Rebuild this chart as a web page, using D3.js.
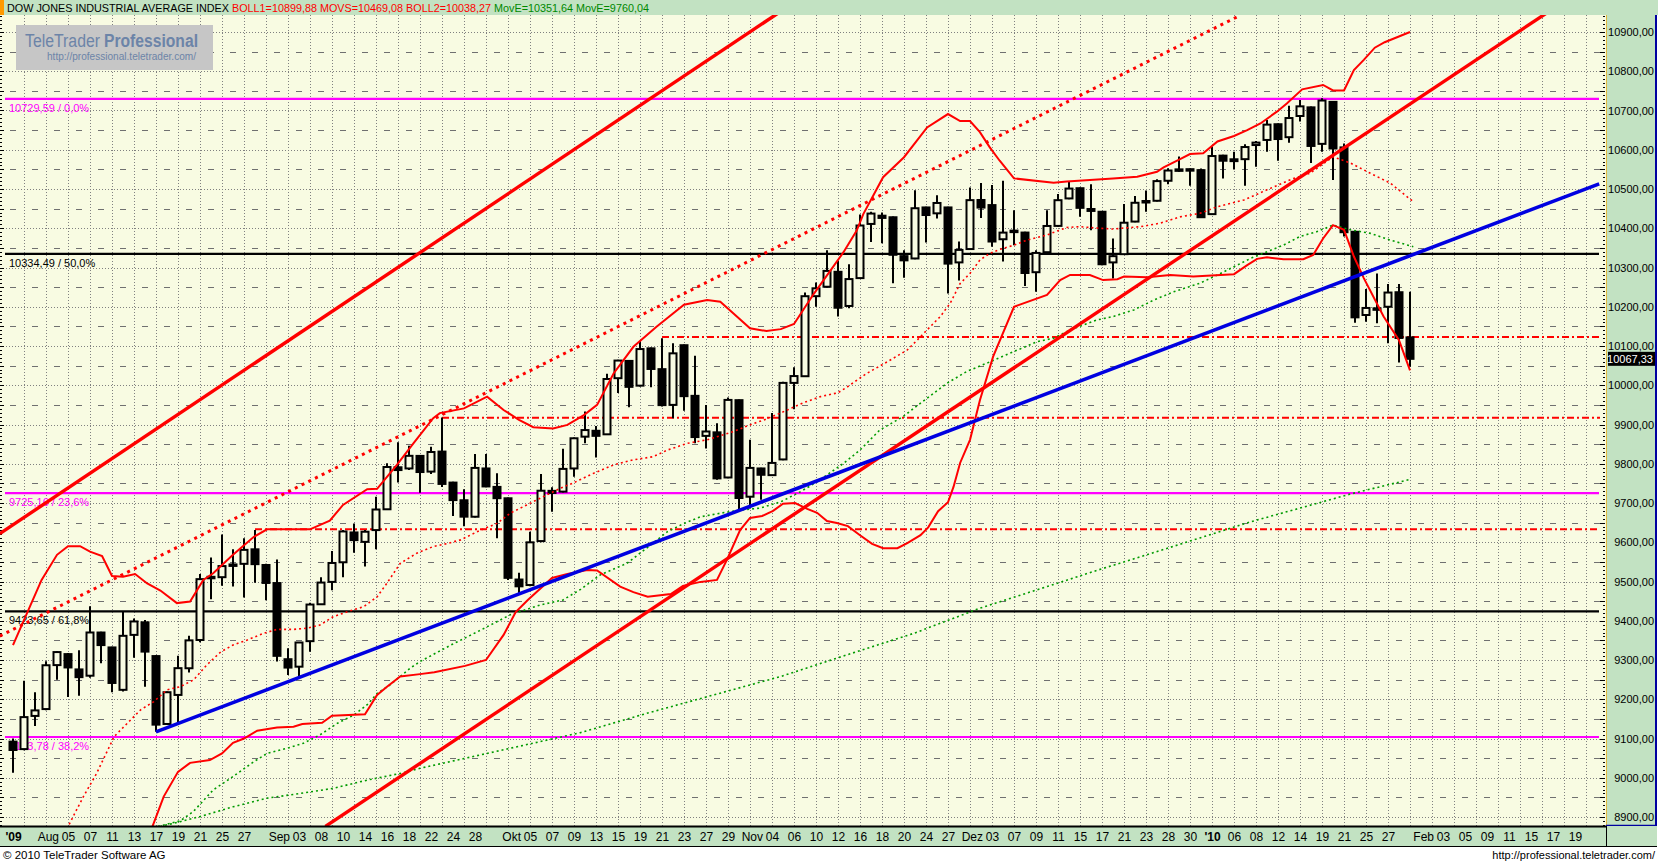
<!DOCTYPE html>
<html><head><meta charset="utf-8">
<script src="https://cdn.jsdelivr.net/npm/d3@7"></script>
<style>
html,body{margin:0;padding:0;background:#fff;}
svg{display:block;font-family:"Liberation Sans",Arial,sans-serif;}
</style></head><body>
<svg id="c" width="1658" height="864"></svg>
<script>
// ---------------- DATA ----------------
const title = "DOW JONES INDUSTRIAL AVERAGE INDEX";
const indicatorTexts = ["BOLL1=10899,88","MOVS=10469,08","BOLL2=10038,27","MovE=10351,64","MovE=9760,04"];

const dates = ["07-29","07-30","07-31","08-03","08-04","08-05","08-06","08-07","08-10","08-11","08-12","08-13","08-14","08-17","08-18","08-19","08-20","08-21","08-24","08-25","08-26","08-27","08-28","08-31","09-01","09-02","09-03","09-04","09-08","09-09","09-10","09-11","09-14","09-15","09-16","09-17","09-18","09-21","09-22","09-23","09-24","09-25","09-28","09-29","09-30","10-01","10-02","10-05","10-06","10-07","10-08","10-09","10-12","10-13","10-14","10-15","10-16","10-19","10-20","10-21","10-22","10-23","10-26","10-27","10-28","10-29","10-30","11-02","11-03","11-04","11-05","11-06","11-09","11-10","11-11","11-12","11-13","11-16","11-17","11-18","11-19","11-20","11-23","11-24","11-25","11-27","11-30","12-01","12-02","12-03","12-04","12-07","12-08","12-09","12-10","12-11","12-14","12-15","12-16","12-17","12-18","12-21","12-22","12-23","12-24","12-28","12-29","12-30","12-31","01-04","01-05","01-06","01-07","01-08","01-11","01-12","01-13","01-14","01-15","01-19","01-20","01-21","01-22","01-25","01-26","01-27","01-28","01-29"];

// open, high, low, close
const ohlc = [
[9092,9100,9013,9070.7],[9073,9247,9070,9154.5],[9157.5,9218,9132,9171.6],[9175,9297,9172,9286.6],[9287,9322,9250,9320.2],
[9315,9318,9206,9281],[9276,9325,9209,9256.3],[9260,9437,9255,9370.1],[9370,9372,9292,9338],[9332,9334,9218,9241.5],
[9224,9425,9220,9361.6],[9364,9406,9306,9398.2],[9396,9402,9232,9321.4],[9310,9312,9117,9135.3],[9137,9220,9135,9217.9],
[9211,9311,9139,9279.2],[9279,9362,9268,9350],[9351,9519,9345,9506],[9512,9561,9455,9509.3],[9511,9620,9489,9539.3],
[9540,9582,9487,9543.5],[9545,9610,9459,9580.6],[9582,9631,9497,9544.2],[9542,9545,9452,9496.3],[9496,9556,9296,9310.6],
[9302,9330,9262,9280.7],[9283,9346,9257,9344.6],[9348,9446,9321,9441.3],[9442,9511,9440,9497.3],[9499,9578,9478,9547.2],
[9549,9631,9511,9627.5],[9625,9648,9573,9605.4],[9601,9631,9538,9626.8],[9631,9716,9582,9683.4],[9684,9801,9682,9791.7],
[9791,9855,9752,9783.9],[9788,9846,9784,9820.2],[9820,9822,9726,9778.9],[9780,9843,9774,9829.9],[9831,9918,9741,9748.6],
[9752,9754,9667,9707.4],[9707,9735,9641,9665.2],[9665,9825,9663,9789.4],[9788,9825,9740,9742.2],[9741,9776,9610,9712.3],
[9712,9714,9504,9509.3],[9505,9522,9470,9487.7],[9491,9627,9488,9599.8],[9603,9774,9600,9731.3],[9731,9740,9678,9725.6],
[9729,9838,9727,9786.9],[9788,9867,9767,9864.9],[9869,9933,9852,9885.8],[9884,9896,9816,9871.1],[9875,10029,9873,10015.9],
[10018,10065,9980,10062.9],[10062,10064,9944,9995.9],[9999,10113,9997,10092.2],[10094,10096,9995,10041.5],[10041,10120,9946,9949.4],
[9950,10107,9916,10081.3],[10102,10104,9935,9972.2],[9973,10075,9852,9868],[9871,9950,9839,9882.2],[9880,9903,9759,9762.7],
[9765,9969,9763,9962.6],[9962,9964,9682,9712.7],[9716,9861,9686,9789.4],[9788,9790,9708,9771.9],[9771,9929,9769,9802.1],
[9811,10009,9809,10006],[10006,10046,9939,10023.4],[10023,10236,10021,10226.9],[10227,10262,10200,10247],[10251,10344,10249,10291.3],
[10289,10318,10175,10197.5],[10202,10308,10196,10270.5],[10273,10435,10271,10407],[10411,10442,10365,10437.4],[10432,10440,10362,10426.3],
[10428,10430,10260,10332.4],[10329,10344,10274,10318.2],[10323,10497,10321,10451],[10453,10455,10364,10433.7],[10438,10484,10425,10464.4],
[10453,10455,10234,10309.9],[10313,10366,10267,10344.8],[10347,10504,10345,10471.6],[10472,10515,10426,10452.7],[10459,10510,10353,10366.2],
[10372,10521,10315,10388.9],[10394,10446,10357,10390.1],[10389,10391,10253,10286],[10288,10344,10238,10337.1],[10339,10446,10337,10405.8],
[10406,10487,10404,10471.5],[10476,10519,10474,10501.1],[10502,10504,10429,10452],[10449,10512,10395,10444.1],[10442,10444,10306,10308.3],
[10313,10374,10272,10328.9],[10334,10462,10332,10414.1],[10417,10482,10415,10464.9],[10468,10496,10442,10469.4],[10470,10525,10468,10520.1],
[10521,10553,10512,10547.1],[10550,10583,10544,10548.4],[10549,10552,10508,10550.5],[10548,10552,10429,10428.1],[10436,10608,10434,10584],
[10585,10587,10527,10572],[10571,10595,10550,10575.7],[10576,10614,10508,10606.9],[10612,10622,10557,10618.2],[10625,10676,10595,10664],
[10665,10667,10572,10627.3],[10632,10712,10618,10680.8],[10686,10727,10672,10710.6],[10708,10710,10566,10609.7],[10615,10731,10595,10725.4],
[10722,10724,10523,10603.2],[10606,10616,10379,10389.9],[10391,10393,10159,10173],[10179,10245,10162,10196.9],[10196,10285,10158,10194.3],
[10200,10258,10107,10236.2],[10237,10258,10058,10120.5],[10122,10238,10047,10067.3]
];
const lastPrice = 10067.33;

// Bollinger upper / lower, middle (MOVS), two exponential averages: [candle index, value]
const bollUpper = [[0,9338],[2.6,9504],[4,9568],[5,9590],[6.1,9590],[7,9576],[8.1,9565],[9,9514],[10,9512],[11.1,9519],[12.2,9495],[13.4,9477],[14.9,9445],[16.1,9449],[17.3,9504],[18.2,9521],[20,9568],[21.9,9614],[23.1,9633],[27,9633],[28.8,9655],[30,9695],[32.2,9735],[33.1,9736],[34.9,9797],[36.4,9852],[38.2,9916],[38.8,9929],[41,9941],[43.1,9971],[44.6,9937],[46,9912],[47.3,9893],[49.1,9890],[50.4,9899],[51.9,9924],[53.1,9950],[54.6,10030],[56.4,10098],[58.5,10149],[61,10205],[63.1,10217],[64.3,10213],[65.5,10183],[67,10145],[68.5,10138],[69.8,10143],[71,10156],[72.8,10233],[75.5,10339],[76.7,10394],[77.3,10436],[79.1,10530],[81,10581],[83.1,10657],[85,10691],[86.1,10673],[87,10673],[87.9,10645],[88.8,10606],[89.7,10572],[91,10527],[94.6,10516],[95.8,10519],[100,10527],[102.2,10531],[104,10544],[104.6,10555],[106.1,10576],[107,10589],[108.2,10591],[109.5,10621],[111,10635],[112.2,10650],[113.4,10667],[114.9,10697],[115.8,10718],[117.2,10754],[119.1,10765],[120,10751],[121,10751],[121.9,10803],[122.8,10829],[123.8,10860],[124.7,10874],[127,10900]];
const bollLower = [[12.6,8870],[13.7,8952],[15,9015],[16.1,9038],[17.9,9045],[19,9062],[20,9089],[21,9100],[22.2,9120],[24,9128],[25.5,9130],[26.3,9137],[28.1,9140],[29,9158],[32,9162],[33.1,9211],[34,9232],[35.2,9258],[37,9264],[38.3,9269],[41.1,9285],[43,9300],[44.6,9364],[45.7,9422],[46.8,9453],[49,9509],[50.4,9519],[52.2,9529],[53.1,9528],[55.2,9487],[56.4,9473],[57.7,9461],[59.8,9468],[60.9,9489],[62.5,9499],[64,9504],[64.9,9555],[66.1,9631],[67,9662],[68.1,9667],[69.1,9680],[70,9698],[71.1,9700],[72.2,9685],[73.1,9675],[74,9654],[74.9,9649],[75.9,9641],[77,9618],[78.1,9596],[79.1,9585],[80.4,9585],[81.3,9598],[82.5,9618],[83.2,9638],[84.1,9679],[85,9702],[85.5,9741],[86.1,9802],[87,9861],[87.9,9962],[89.1,10073],[91,10200],[94,10230],[95.2,10268],[96.1,10281],[97.9,10281],[99.1,10268],[100.4,10270],[101,10277],[103.1,10275],[105.2,10281],[107.3,10277],[111,10283],[112.2,10306],[113.1,10322],[114,10326],[115.5,10321],[117.3,10321],[118.2,10332],[119.1,10374],[120,10408],[121,10396],[121.9,10328],[122.8,10273],[124.6,10175],[126,10115],[127,10038]];
const movs = [[4.9,8870],[6.4,8952],[7.6,9011],[9.2,9105],[10.4,9139],[11.6,9173],[12.8,9194],[14,9224],[15.2,9232],[16.4,9249],[17.6,9287],[18.9,9321],[20,9338],[21.3,9351],[22.8,9368],[24,9378],[25.5,9378],[26.7,9381],[27.9,9389],[29.1,9410],[30.4,9423],[31.9,9436],[33.1,9461],[34,9496],[35.2,9546],[36.7,9572],[38.2,9589],[39.5,9597],[40.7,9606],[42.5,9631],[44,9648],[45.2,9674],[46.7,9695],[48.2,9716],[49.8,9738],[51,9752],[52.8,9776],[54.6,9797],[56.4,9810],[58.2,9818],[59.5,9835],[61.3,9852],[63.1,9861],[65.5,9882],[67,9899],[68.5,9914],[70.4,9937],[71.9,9956],[73.4,9971],[75,9981],[75.8,9995],[77.6,10030],[79.5,10060],[81.3,10090],[82.2,10115],[83.1,10141],[84.3,10175],[85.2,10209],[86.1,10259],[87,10285],[87.9,10319],[88.8,10336],[89.7,10346],[91,10357],[92.2,10370],[94,10383],[95.8,10402],[97,10404],[98.8,10400],[100,10398],[102.5,10404],[104.3,10413],[106.1,10429],[107.9,10438],[109.5,10455],[111.9,10472],[114,10498],[116.4,10527],[117.9,10540],[120,10582],[121.6,10566],[123.4,10540],[125.2,10515],[127.2,10470]];
const movE1 = [[12.3,8870],[15.2,8890],[16.4,8914],[18.2,8969],[20,9003],[21.9,9041],[23.1,9062],[24.9,9075],[26.4,9088],[27.9,9109],[29.5,9139],[31,9160],[32.2,9186],[33.1,9215],[34.3,9237],[36.1,9279],[37,9296],[39.8,9338],[42.5,9376],[45.2,9415],[47.9,9440],[50,9453],[51.6,9480],[53.4,9517],[55.8,9546],[57.6,9585],[59.5,9627],[61,9648],[62.5,9665],[64.3,9674],[66.1,9682],[67.9,9687],[69.8,9703],[71.6,9729],[73.1,9754],[75.5,9801],[77,9835],[78.8,9886],[80.9,9920],[83.1,9967],[84.9,10005],[86.7,10035],[88.5,10056],[91,10086],[93.1,10111],[94.6,10120],[96.1,10141],[98.5,10166],[100,10175],[101.9,10192],[103.7,10217],[105.5,10238],[107.9,10260],[109.5,10281],[112.5,10323],[115.5,10357],[117,10379],[118.5,10391],[120,10408],[121.6,10396],[123.4,10387],[125.2,10370],[127.3,10353]];
const movE2 = [[12.5,8870],[15.2,8888],[17,8901],[20,8926],[23.1,8948],[26.1,8960],[29.1,8973],[32.2,8994],[35.2,9011],[37,9024],[51.6,9115],[57.6,9164],[63.7,9211],[69.8,9258],[75.8,9313],[81.9,9368],[87.9,9432],[94,9487],[98.5,9528],[103.4,9571],[107.9,9611],[112.5,9652],[117,9687],[121.6,9723],[127,9760]];

// trend lines [index, value]
const channelUpper = [[-1.2,9622],[69.5,10947]];
const channelLower = [[28.4,8876],[139.4,10948]];
const channelMid = [[-1.2,9361],[111.6,10943]];
const blueTrend = [[13,9117],[144.2,10513]];

// horizontal dash-dot support/resistance lines: value, start index
const srValues = [10123, 9917, 9633];
const srStart = [59, 39, 22];

// Fibonacci levels
const fibValues = [10729.59, 10334.49, 9725.16, 9423.65, 9103.78];
const fibLabels = ["10729,59 / 0,0%","10334,49 / 50,0%","9725,16 / 23,6%","9423,65 / 61,8%","9103,78 / 38,2%"];

// axes
const yTicks = [8900,9000,9100,9200,9300,9400,9500,9600,9700,9800,9900,10000,10100,10200,10300,10400,10500,10600,10700,10800,10900];
const xTickIdx = [0,5,7,9,11,13,15,17,19,21,26,28,30,32,34,36,38,40,42,47,49,51,53,55,57,59,61,63,65,69,71,73,75,77,79,81,83,85,89,91,93,95,97,99,101,103,105,107,109,111,113,115,117,119,121,123,125,130,132,134,136,138,140,142];
const xTickLabels = ["'09","05","07","11","13","17","19","21","25","27","03","08","10","14","16","18","22","24","28","05","07","09","13","15","19","21","23","27","29","04","06","10","12","16","18","20","24","27","03","07","09","11","15","17","21","23","28","30","'10","06","08","12","14","19","21","25","27","03","05","09","11","15","17","19"];
const monthIdx = [5,26,47,69,89,130];
const monthLabels = ["Aug","Sep","Okt","Nov","Dez","Feb"];

// ---------------- DRAW ----------------
const svg = d3.select('#c');
const BG = '#f8fbe2', GREEN = '#c2e2c2';
const x = d3.scaleLinear().domain([0,142]).range([13,1575]);
const y = d3.scaleLinear().domain([8900,10900]).range([817,32]);
const PL=0, PR=1606, PT=15, PB=826;

svg.append('rect').attr('width',1658).attr('height',864).attr('fill','#fff');
svg.append('rect').attr('x',0).attr('y',0).attr('width',1658).attr('height',PT).attr('fill',GREEN);
svg.append('rect').attr('x',0).attr('y',0).attr('width',4).attr('height',PT).attr('fill','#ff9900');
svg.append('rect').attr('x',PL).attr('y',PT).attr('width',PR-PL).attr('height',PB-PT).attr('fill',BG);

const defs = svg.append('defs');
defs.append('clipPath').attr('id','pc').append('rect').attr('x',0).attr('y',PT).attr('width',1600).attr('height',PB-PT);

// grid
const grid = svg.append('g').attr('shape-rendering','crispEdges');
for (let i=1;i<=143;i+=2){
  grid.append('line').attr('x1',x(i)+0.5).attr('x2',x(i)+0.5).attr('y1',PT).attr('y2',PB)
    .attr('stroke','#808080').attr('stroke-dasharray','1,2');
}
d3.range(8900,10901,100).forEach(v=>{
  const yy=Math.round(y(v))+0.5;
  grid.append('line').attr('x1',0).attr('x2',1605).attr('y1',yy).attr('y2',yy)
    .attr('stroke','#808080').attr('stroke-dasharray','1,2');
});
d3.range(8850,10951,100).forEach(v=>{
  const yy=Math.round(y(v))+0.5;
  if (yy<PT||yy>PB) return;
  for (let i=0;i<=144;i+=2){
    grid.append('line').attr('x1',x(i)-3).attr('x2',x(i)+3).attr('y1',yy).attr('y2',yy).attr('stroke','#707070');
  }
});
// side rulers
d3.range(8860,10960,10).forEach(v=>{
  const yy=Math.round(y(v))+0.5;
  if (yy<PT||yy>PB) return;
  const big = v%50===0;
  grid.append('line').attr('x1',0).attr('x2',big?4:2).attr('y1',yy).attr('y2',yy).attr('stroke','#000');
  grid.append('line').attr('x1',big?1600:1603).attr('x2',1605).attr('y1',yy).attr('y2',yy).attr('stroke','#000');
});

// fib lines + labels
const fibColor = ['#ff00ff','#000000','#ff00ff','#000000','#ff00ff'];
const fg = svg.append('g');
fibValues.forEach((v,k)=>{
  fg.append('line').attr('x1',5).attr('x2',1599).attr('y1',y(v)).attr('y2',y(v))
    .attr('stroke',fibColor[k]).attr('stroke-width',2.2);
  fg.append('text').attr('x',9).attr('y',y(v)+13).attr('font-size',11).attr('fill',fibColor[k]).text(fibLabels[k]);
});

// support / resistance dash-dot
const sg = svg.append('g').attr('clip-path','url(#pc)');
srValues.forEach((v,k)=>{
  sg.append('line').attr('x1',x(srStart[k])).attr('x2',1600).attr('y1',y(v)).attr('y2',y(v))
    .attr('stroke','#ff0000').attr('stroke-width',2).attr('stroke-dasharray','7,3,2,3');
});

// logo
const lg = svg.append('g');
lg.append('rect').attr('x',16).attr('y',25).attr('width',197).attr('height',45).attr('fill','#c6c6c6');
lg.append('text').attr('x',25).attr('y',47).attr('font-size',18).attr('fill','#6c84a8')
  .attr('textLength',75).attr('lengthAdjust','spacingAndGlyphs').text('TeleTrader');
lg.append('text').attr('x',104).attr('y',47).attr('font-size',18).attr('font-weight','bold').attr('fill','#6c84a8')
  .attr('textLength',94).attr('lengthAdjust','spacingAndGlyphs').text('Professional');
lg.append('text').attr('x',47).attr('y',60).attr('font-size',11).attr('fill','#6c84a8')
  .attr('textLength',149).attr('lengthAdjust','spacingAndGlyphs').text('http://professional.teletrader.com/');

// candles
const cg = svg.append('g');
ohlc.forEach((d,i)=>{
  const [o,h,l,c]=d, cx=x(i);
  cg.append('line').attr('x1',cx).attr('x2',cx).attr('y1',y(h)).attr('y2',y(l)).attr('stroke','#000').attr('stroke-width',2);
  const top=y(Math.max(o,c)), bot=y(Math.min(o,c));
  cg.append('rect').attr('x',cx-3.5).attr('y',top).attr('width',7).attr('height',Math.max(bot-top,1.5))
    .attr('fill', c>o ? BG : '#000').attr('stroke','#000').attr('stroke-width',2);
});

// indicator lines
const line = d3.line().x(d=>x(d[0])).y(d=>y(d[1]));
const ig = svg.append('g').attr('clip-path','url(#pc)').attr('fill','none');
ig.append('path').attr('d',line(movE2)).attr('stroke','#009a00').attr('stroke-width',1.6).attr('stroke-dasharray','2,3');
ig.append('path').attr('d',line(movE1)).attr('stroke','#009a00').attr('stroke-width',1.6).attr('stroke-dasharray','2,3');
ig.append('path').attr('d',line(movs)).attr('stroke','#ff0000').attr('stroke-width',1.6).attr('stroke-dasharray','2,3');
ig.append('path').attr('d',line(bollUpper)).attr('stroke','#ff0000').attr('stroke-width',2);
ig.append('path').attr('d',line(bollLower)).attr('stroke','#ff0000').attr('stroke-width',2);
ig.append('path').attr('d',line(channelMid)).attr('stroke','#ff0000').attr('stroke-width',3).attr('stroke-dasharray','3,4.5');
ig.append('path').attr('d',line(channelUpper)).attr('stroke','#ff0000').attr('stroke-width',3.4);
ig.append('path').attr('d',line(channelLower)).attr('stroke','#ff0000').attr('stroke-width',3.4);
ig.append('path').attr('d',line(blueTrend)).attr('stroke','#0000e0').attr('stroke-width',3.6);

// header
const ht = svg.append('text').attr('x',7).attr('y',11.5).attr('font-size',10.8);
ht.append('tspan').attr('fill','#000').text(title);
const hc = ['#ff0000','#ff0000','#ff0000','#008800','#008800'];
indicatorTexts.forEach((t,k)=>ht.append('tspan').attr('fill',hc[k]).text(' '+t));

// right axis panel
svg.append('rect').attr('x',1606).attr('y',PT).attr('width',50).attr('height',PB-PT).attr('fill',GREEN);
svg.append('line').attr('x1',1606.5).attr('x2',1606.5).attr('y1',PT).attr('y2',PB).attr('stroke','#e0b840');
svg.append('line').attr('x1',1656).attr('x2',1656).attr('y1',PT).attr('y2',847).attr('stroke','#0000a0').attr('stroke-width',2);
svg.append('line').attr('x1',1606).attr('x2',1657).attr('y1',PB-0.5).attr('y2',PB-0.5).attr('stroke','#0000a0').attr('stroke-width',1.5);
const ya = svg.append('g').attr('transform','translate(1654,0)')
  .call(d3.axisRight(y).tickValues(yTicks).tickSize(0).tickPadding(0)
    .tickFormat(v=>d3.format('.2f')(v).replace('.',',')));
ya.select('.domain').remove();
ya.selectAll('text').attr('text-anchor','end').attr('font-size',11).attr('fill','#000')
  .attr('font-family','"Liberation Sans",Arial,sans-serif');

// last price tag
svg.append('rect').attr('x',1608).attr('y',y(lastPrice)-7).attr('width',47).attr('height',14).attr('fill','#000');
svg.append('text').attr('x',1653).attr('y',y(lastPrice)+4).attr('text-anchor','end').attr('font-size',11).attr('fill','#fff')
  .text(d3.format('.2f')(lastPrice).replace('.',','));

// bottom axis strip
svg.append('rect').attr('x',0).attr('y',PB).attr('width',1657).attr('height',20).attr('fill',GREEN);
svg.append('line').attr('x1',0).attr('x2',1606).attr('y1',PB+0.5).attr('y2',PB+0.5).attr('stroke','#000').attr('stroke-width',2);
svg.append('line').attr('x1',0).attr('x2',1657).attr('y1',846.5).attr('y2',846.5).attr('stroke','#000').attr('stroke-width',1);
svg.append('line').attr('x1',1606.5).attr('x2',1606.5).attr('y1',PB).attr('y2',846).attr('stroke','#000');
const xa = svg.append('g').attr('transform',`translate(0,${PB})`)
  .call(d3.axisBottom(x).tickValues(xTickIdx).tickSize(0)
    .tickFormat((d,k)=>xTickLabels[k]));
xa.select('.domain').remove();
xa.selectAll('text').attr('y',15).attr('dy',0).attr('font-size',12).attr('fill','#000')
  .attr('font-family','"Liberation Sans",Arial,sans-serif')
  .attr('font-weight',(d,k)=>xTickLabels[k].startsWith("'")?'bold':'normal');
monthIdx.forEach((i,k)=>{
  svg.append('text').attr('x',x(i)-9).attr('y',PB+15).attr('text-anchor','end').attr('font-size',12).attr('fill','#000').text(monthLabels[k]);
});

// footer
svg.append('text').attr('x',3).attr('y',859).attr('font-size',11.5).attr('fill','#000').text('© 2010 TeleTrader Software AG');
svg.append('text').attr('x',1655).attr('y',859).attr('text-anchor','end').attr('font-size',11).attr('fill','#000').text('http://professional.teletrader.com/');
</script>
</body></html>
